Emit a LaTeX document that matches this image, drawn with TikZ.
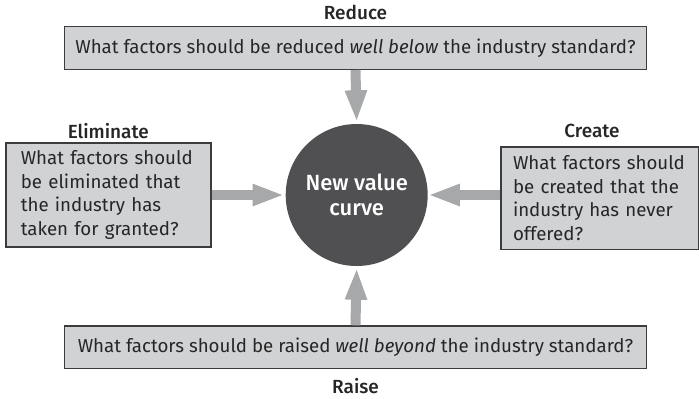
\documentclass[tikz,border=0pt]{standalone}
\usepackage{fontspec}
\setmainfont{Fira Sans}[BoldFont={Fira Sans Medium}]
\usetikzlibrary{arrows.meta}
\definecolor{boxfill}{HTML}{D1D2D4}
\definecolor{boxline}{HTML}{3C3C3E}
\definecolor{circfill}{HTML}{505052}
\definecolor{arrowgray}{HTML}{A7A8AA}
\tikzset{
  qbox/.style={draw=boxline, line width=1.4pt, fill=boxfill, inner sep=0pt, font=\fontsize{18.7}{23.5}\selectfont, text=black!85},
  widebox/.style={qbox, minimum width=582pt, minimum height=42.6pt},
  sidebox/.style={qbox, align=left},
  lbl/.style={font=\bfseries\fontsize{19}{22}\selectfont, text=black!85},
  bigarrow/.style={draw=arrowgray, line width=10pt, -{Triangle[length=32pt,width=20pt]}},
}
\begin{document}
\begin{tikzpicture}[x=1pt,y=-1pt]
\useasboundingbox (0,0) rectangle (699,399);
\node[widebox] (top) at (355.5,48) {What factors should be reduced \textit{well below} the industry standard?};
\node[widebox] (bot) at (355.5,347.3) {What factors should be raised \textit{well beyond} the industry standard?};
\node[sidebox, text width=175pt, inner xsep=15pt, minimum height=104pt] (left) at (108.3,195) {What factors should be eliminated that the industry has taken for granted?};
\node[sidebox, text width=174pt, inner xsep=12pt, minimum height=102.5pt] (right) at (600,198.3) {What factors should be created that the industry has never offered?};
\node[circle, fill=circfill, minimum size=142pt, inner sep=0pt, align=center, text=white, font=\bfseries\fontsize{22}{25}\selectfont] (c) at (356.7,195) {New value\\curve};
\node[lbl] (lreduce) at (355.5,12) {Reduce};
\node[lbl] (lraise) at (355.5,386) {Raise};
\node[lbl] (lelim) at (108.3,131) {Eliminate};
\node[lbl] (lcreate) at (592,131) {Create};
\draw[bigarrow, shorten >=1.5pt] (top.south) -- (c.north);
\draw[bigarrow, shorten >=1.5pt] (bot.north) -- (c.south);
\draw[bigarrow, shorten >=1pt] (left.east |- c.west) -- (c.west);
\draw[bigarrow, shorten >=0pt] (right.west |- c.east) -- (c.east);
\end{tikzpicture}
\end{document}
